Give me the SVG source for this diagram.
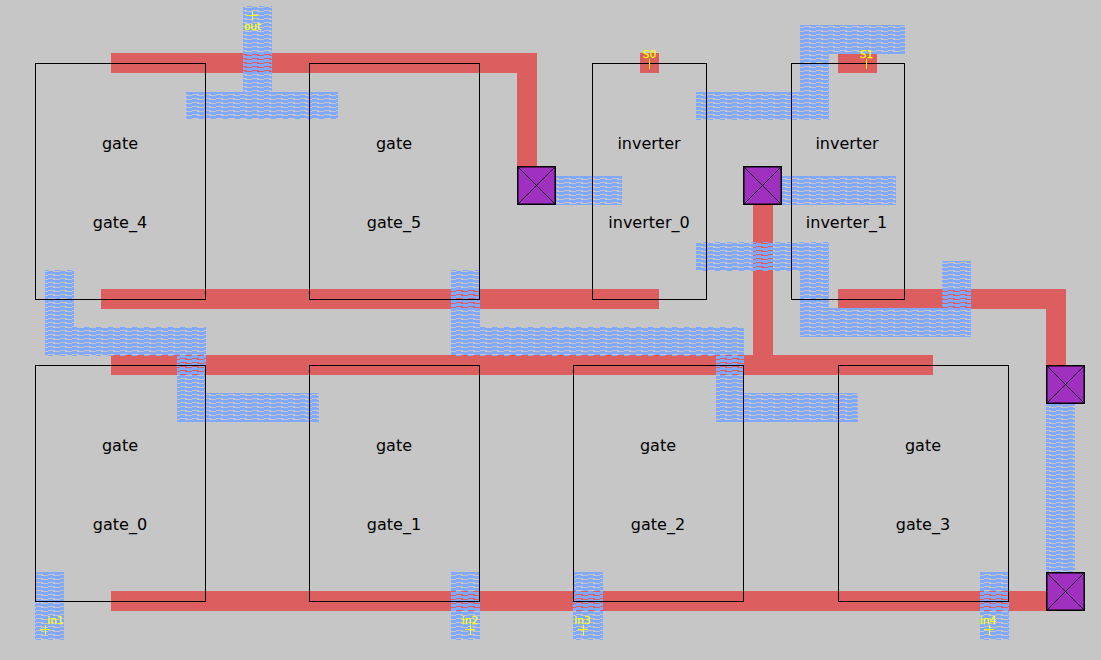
<svg xmlns="http://www.w3.org/2000/svg" width="1101" height="660" viewBox="0 0 1101 660">
<style>
.r{fill:#dc5e5e}
.b{fill:url(#h)}
.n{fill:none;stroke:#000;stroke-width:1}
.t{font-family:"DejaVu Sans",sans-serif;font-size:16px;fill:#000;text-anchor:middle}
.y{font-family:"DejaVu Sans",sans-serif;font-size:10.5px;fill:#ff0;stroke:#ff0;stroke-width:.25;text-anchor:middle}
.c{stroke:#ff0;stroke-width:1;fill:none}
.v{fill:#a030c0;stroke:#000;stroke-width:1.5}
.x{stroke:#000;stroke-width:.8;fill:none}
</style>
<defs>
<pattern id="h" patternUnits="userSpaceOnUse" x="0" y="0" width="12" height="4" shape-rendering="crispEdges">
<rect x="0" y="0" width="12" height="2" fill="#80a8ff"/>
<rect x="7" y="2" width="5" height="1" fill="#80a8ff"/>
<rect x="0" y="3" width="5" height="1" fill="#80a8ff"/>
</pattern>
</defs>
<rect width="1101" height="660" fill="#c6c6c6"/>
<g id="connectors" shape-rendering="crispEdges">
<g id="red">
<path class="r" d="M111 53H537V167H517V73H111Z"/>
<rect class="r" x="101" y="289" width="558" height="20"/>
<rect class="r" x="111" y="355" width="822" height="20"/>
<rect class="r" x="753" y="205" width="20" height="150"/>
<rect class="r" x="111" y="591" width="936" height="20"/>
<path class="r" d="M838 289H1066V365H1046V309H838Z"/>
<rect class="r" x="640" y="53" width="19" height="20"/>
<rect class="r" x="838" y="54" width="39" height="19"/>
</g>
<g id="blue">
<path class="b" d="M243 6H272V92H338V119H186V92H243Z"/>
<path class="b" d="M45 270H74V327H206V356H45Z"/>
<path class="b" d="M177 355H206V393H319V422H177Z"/>
<path class="b" d="M451 270H480V327H744V356H451Z"/>
<path class="b" d="M716 355H744V393H858V422H716Z"/>
<rect class="b" x="556" y="176" width="66" height="29"/>
<rect class="b" x="782" y="176" width="114" height="29"/>
<path class="b" d="M800 25H905V54H829V120H696V92H800Z"/>
<path class="b" d="M696 242H829V308H942V261H971V337H800V271H696Z"/>
<rect class="b" x="1046" y="404" width="29" height="168"/>
<rect class="b" x="35" y="572" width="29" height="68"/>
<rect class="b" x="451" y="572" width="29" height="68"/>
<rect class="b" x="573" y="572" width="30" height="68"/>
<rect class="b" x="980" y="572" width="29" height="68"/>
</g>
</g>
<g id="via_0"><rect class="v" x="517.75" y="166.75" width="37.5" height="37.5"/><path class="x" d="M518 167L555 204M555 167L518 204"/></g>
<g id="via_1"><rect class="v" x="743.75" y="166.75" width="37.5" height="37.5"/><path class="x" d="M744 167L781 204M781 167L744 204"/></g>
<g id="via_2"><rect class="v" x="1046.75" y="365.75" width="37.5" height="37.5"/><path class="x" d="M1047 366L1084 403M1084 366L1047 403"/></g>
<g id="via_3"><rect class="v" x="1046.75" y="572.75" width="37.5" height="37.5"/><path class="x" d="M1047 573L1084 610M1084 573L1047 610"/></g>
<g id="gate_4"><rect class="n" x="35.5" y="63.5" width="170" height="236"/><text class="t" x="120" y="149">gate</text><text class="t" x="120" y="228">gate_4</text></g>
<g id="gate_5"><rect class="n" x="309.5" y="63.5" width="170" height="236"/><text class="t" x="394" y="149">gate</text><text class="t" x="394" y="228">gate_5</text></g>
<g id="inverter_0"><rect class="n" x="592.5" y="63.5" width="114" height="236"/><text class="t" x="649" y="149">inverter</text><text class="t" x="649" y="228">inverter_0</text></g>
<g id="inverter_1"><rect class="n" x="791.5" y="63.5" width="113" height="236"/><text class="t" x="847" y="149">inverter</text><text class="t" x="846.5" y="228">inverter_1</text></g>
<g id="gate_0"><rect class="n" x="35.5" y="365.5" width="170" height="236"/><text class="t" x="120" y="451">gate</text><text class="t" x="120" y="530">gate_0</text></g>
<g id="gate_1"><rect class="n" x="309.5" y="365.5" width="170" height="236"/><text class="t" x="394" y="451">gate</text><text class="t" x="394" y="530">gate_1</text></g>
<g id="gate_2"><rect class="n" x="573.5" y="365.5" width="170" height="236"/><text class="t" x="658" y="451">gate</text><text class="t" x="658" y="530">gate_2</text></g>
<g id="gate_3"><rect class="n" x="838.5" y="365.5" width="170" height="236"/><text class="t" x="923" y="451">gate</text><text class="t" x="923" y="530">gate_3</text></g>
<g id="pins" shape-rendering="crispEdges">
<g id="pin_out"><path class="c" d="M247 15.5H258M252.5 11V21"/><text class="y" x="252.5" y="30">out</text></g>
<g id="pin_s0"><path class="c" d="M649.5 59V69"/><text class="y" x="649.5" y="58">S0</text></g>
<g id="pin_s1"><path class="c" d="M866.5 59V69"/><text class="y" x="866.5" y="58">S1</text></g>
<g id="pin_in1"><path class="c" d="M40 629.5H50M45.5 625V635"/><text class="y" x="55.5" y="624">in1</text></g>
<g id="pin_in2"><path class="c" d="M465 629.5H475M470.5 625V635"/><text class="y" x="470" y="624">in2</text></g>
<g id="pin_in3"><path class="c" d="M578 629.5H588M583.5 625V635"/><text class="y" x="582.5" y="624">in3</text></g>
<g id="pin_in4"><path class="c" d="M984 629.5H994M989.5 625V635"/><text class="y" x="988" y="624">in4</text></g>
</g>
</svg>
